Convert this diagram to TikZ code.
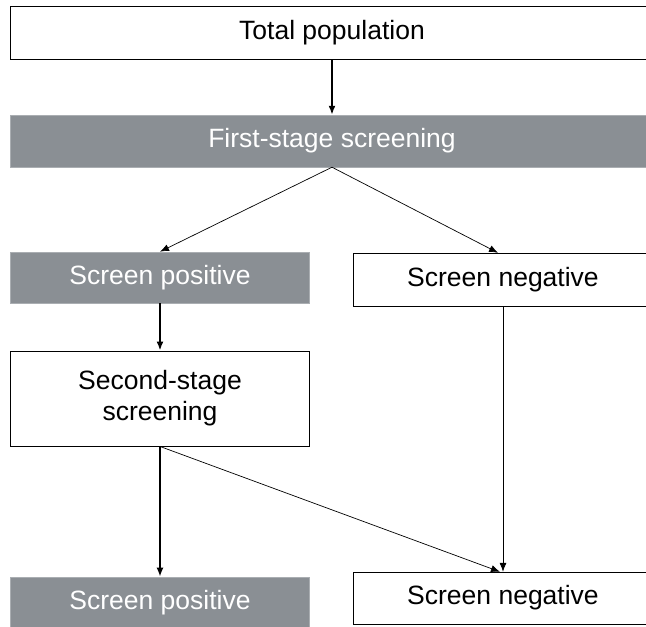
\documentclass[tikz,border=0pt]{standalone}
\usepackage{fontspec}
\setmainfont{Liberation Sans}
\usetikzlibrary{arrows.meta}
\definecolor{grisboite}{RGB}{138,143,148}
\definecolor{bordgris}{RGB}{170,174,178}

\begin{document}
\begin{tikzpicture}[x=1pt,y=-1pt]
\tikzset{texte/.style={inner sep=0pt, font=\fontsize{26.5}{31}\selectfont},
  boite/.style={texte, draw, line width=0.9pt, minimum width=299pt},
  boitegrise/.style={texte, draw=bordgris, line width=0.6pt, fill=grisboite, text=white, minimum width=299pt},
  fleche/.style={-{Latex[length=9pt,width=7pt]}, line width=1.8pt},
  flechefine/.style={-{Latex[length=9pt,width=7pt]}, line width=0.7pt}}
\useasboundingbox (0,0) rectangle (646,627);
\clip (0,0) rectangle (646,627);
\draw[line width=0.9pt] (10,6) rectangle (700,59);
\filldraw[fill=grisboite, draw=bordgris, line width=0.6pt] (10,115) rectangle (700,167);
\draw[line width=0.9pt] (353,253) rectangle (700,306);
\draw[line width=0.9pt] (353,572) rectangle (700,624);
\node[texte, minimum height=53pt] (total) at (332,32.5) {Total population};
\node[texte, minimum height=52pt, text=white] (premier) at (332,141) {First-stage screening};
\node[boitegrise, minimum height=51pt] (pos1) at (160,277.5) {Screen positive};
\node[texte, minimum height=53pt] (neg1) at (503,279.5) {Screen negative};
\node[boite, minimum height=95pt, align=center] (deux) at (160,398.5) {Second-stage\\screening};
\node[boitegrise, minimum height=51pt] (pos2) at (160,602.5) {Screen positive};
\node[texte, minimum height=52pt] (neg2) at (503,598) {Screen negative};
\draw[fleche] (total) -- (premier);
\draw[flechefine] (premier.south) -- (pos1.north);
\draw[flechefine] (premier.south) -- ([xshift=-5pt]neg1.north);
\draw[fleche] (pos1) -- (deux);
\draw[flechefine] (neg1.south) -- (neg2.north);
\draw[fleche] (deux) -- (pos2);
\draw[flechefine] (deux.south) -- ([xshift=-3pt]neg2.north);
\end{tikzpicture}
\end{document}
